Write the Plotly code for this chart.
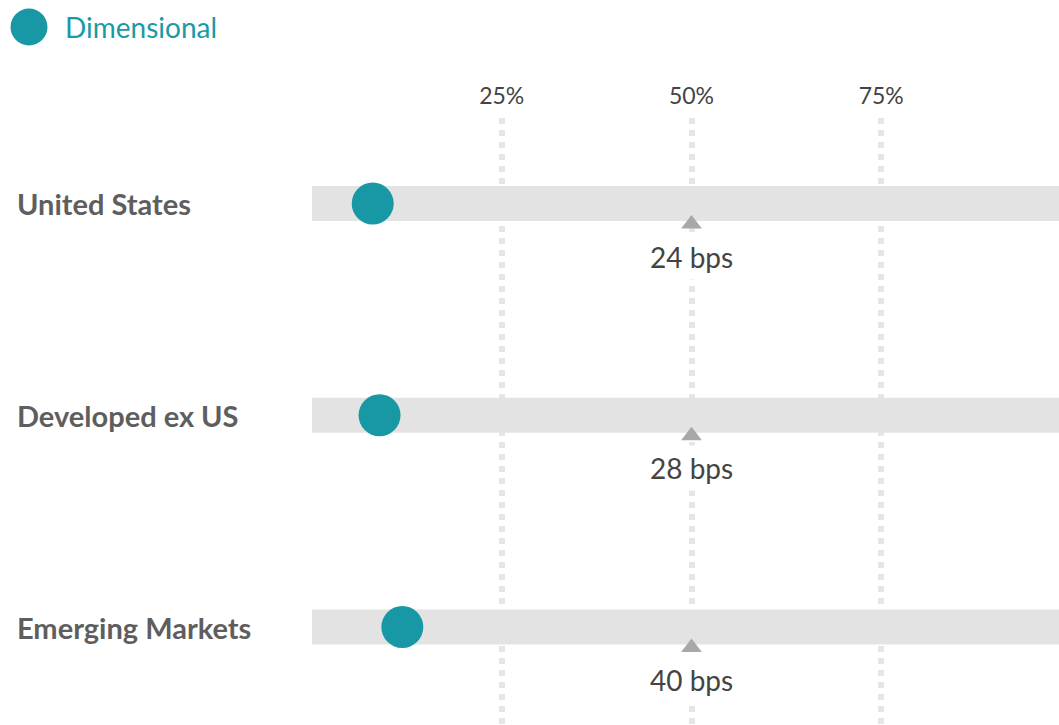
import plotly.graph_objects as go

# ---- data ----
categories = ["United States", "Developed ex US", "Emerging Markets"]
dimensional_pct = [8.0, 8.9, 11.9]
median_pct = [50, 50, 50]
median_labels = ["24 bps", "28 bps", "40 bps"]
bar_full = [100, 100, 100]
tick_vals = [25, 50, 75]
tick_text = ["25%", "50%", "75%"]
legend_name = "Dimensional"

# ---- layout geometry ----
W, H = 1059, 725
ML, MR, MT, MB = 312, 0, 118, 0
plot_w = W - ML - MR
plot_h = H - MT - MB
row_px = 211.75
first_row_px = 203.5
px_per_pct = 7.59

rows = list(range(len(categories)))
y_top = -(first_row_px - MT) / row_px
y_bot = y_top + plot_h / row_px
tri_off = 20.5 / row_px

TEAL = "#1798a4"
FONT = "Lato"

fig = go.Figure()
fig.add_trace(go.Bar(
    x=bar_full, y=rows, orientation="h", width=35 / row_px,
    marker=dict(color="#e3e3e3", line=dict(width=0)),
    hoverinfo="skip", showlegend=False,
))
fig.add_trace(go.Scatter(
    x=median_pct, y=[r + tri_off for r in rows], mode="markers",
    marker=dict(symbol="triangle-up", size=18, color="#a8a8a8"),
    hoverinfo="skip", showlegend=False,
))
fig.add_trace(go.Scatter(
    x=dimensional_pct, y=rows, mode="markers", name=legend_name,
    marker=dict(size=42, color=TEAL, line=dict(width=0)),
    showlegend=False,
))

annotations = []
for r, lab, xv in zip(rows, median_labels, median_pct):
    annotations.append(dict(
        x=xv, y=r, xref="x", yref="y", yshift=-53, text=lab, showarrow=False,
        font=dict(family=FONT, size=28, color="#444444"),
        bgcolor="white", borderpad=5, xanchor="center", yanchor="middle",
    ))
for r, cat in zip(rows, categories):
    annotations.append(dict(
        x=(15 - ML) / plot_w, y=r, xref="paper", yref="y", text=cat, showarrow=False,
        font=dict(family=FONT, size=29, color="#5e5e5e", weight="bold"),
        xanchor="left", yanchor="middle",
    ))
annotations.append(dict(
    x=(63 - ML) / plot_w, y=(H - MB - 27) / plot_h, xref="paper", yref="paper",
    text=legend_name, showarrow=False,
    font=dict(family=FONT, size=28, color="#1a9aa6"),
    xanchor="left", yanchor="middle",
))

shapes = [dict(
    type="circle", xref="paper", yref="paper",
    x0=(10.5 - ML) / plot_w, x1=(47.5 - ML) / plot_w,
    y0=(H - MB - 45.5) / plot_h, y1=(H - MB - 8.5) / plot_h,
    fillcolor=TEAL, line=dict(width=0), layer="above",
)]

fig.update_layout(
    width=W, height=H,
    margin=dict(l=ML, r=MR, t=MT, b=MB, pad=0),
    paper_bgcolor="white", plot_bgcolor="white",
    font=dict(family=FONT),
    showlegend=False,
    annotations=annotations, shapes=shapes,
    xaxis=dict(
        range=[0, plot_w / px_per_pct], side="top",
        tickvals=tick_vals, ticktext=tick_text, ticks="",
        tickfont=dict(family=FONT, size=23, color="#444444"),
        ticklabelstandoff=8,
        showgrid=True, gridcolor="#e6e6e6", gridwidth=6, griddash="6px,6px",
        zeroline=False, showline=False, fixedrange=True,
    ),
    yaxis=dict(
        range=[y_bot, y_top], showgrid=False, zeroline=False,
        showticklabels=False, showline=False, fixedrange=True,
    ),
)

fig.write_html(
    "out.html",
    config={"displayModeBar": False},
    post_script="document.body.style.margin='0';document.body.style.overflow='hidden';",
)
